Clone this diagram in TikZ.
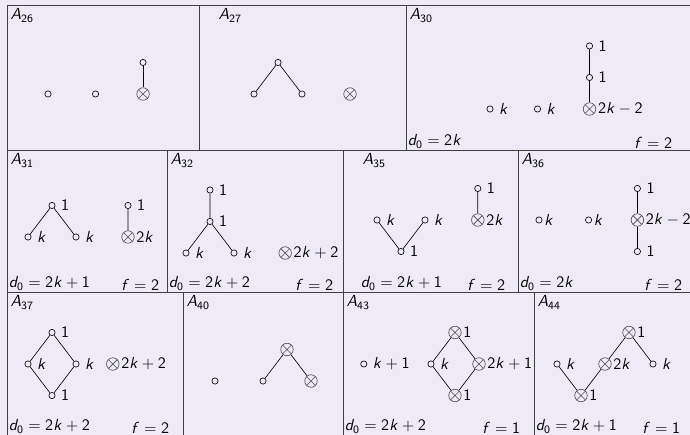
\documentclass[tikz,border=0pt]{standalone}
\usetikzlibrary{positioning}
\DeclareSymbolFont{operators}{OT1}{cmss}{m}{n}
\DeclareSymbolFont{letters}{OT1}{cmss}{m}{sl}
\definecolor{slidebg}{RGB}{239,235,246}
\tikzstyle{vtx}=[draw,circle,inner sep=0pt,minimum size=3.9pt]
\tikzstyle{otm}=[draw=black!70,circle,inner sep=0pt,minimum size=7.8pt,path picture={\draw[black!70] (path picture bounding box.north west) -- (path picture bounding box.south east) (path picture bounding box.north east) -- (path picture bounding box.south west);}]
\tikzstyle{tabline}=[draw=black!75,line width=0.6pt]
\tikzstyle{hd}=[anchor=north west,inner sep=2pt]
\tikzstyle{dz}=[anchor=south west,inner sep=1pt]
\tikzstyle{ff}=[anchor=south east,inner sep=1pt]
\tikzstyle{lo}=[inner sep=1pt]

\begin{document}
\begin{tikzpicture}[x=0.625pt,y=-0.625pt,node distance=19.7pt and 15pt,on grid]
            \fill[slidebg] (0,0) rectangle (690,435);
            \useasboundingbox (0,0) rectangle (690,435);
            \draw[tabline] (690,5) -- (7,5) -- (7,435);
            \draw[tabline] (7,150) -- (690,150) (7,292) -- (690,292);
            \draw[tabline] (199,5) -- (199,150) (406,5) -- (406,150);
            \draw[tabline] (167,150) -- (167,292) (343,150) -- (343,292) (518,150) -- (518,292);
            \draw[tabline] (183,292) -- (183,435) (343,292) -- (343,435) (534,292) -- (534,435);

            \node[hd] (h26) at (7,5) {$A_{26}$};
            \node[vtx] (p26a) at (48,94) {};
            \node[vtx,right=29.7pt of p26a] (p26b) {};
            \node[otm,right=29.7pt of p26b] (p26c) {};
            \node[vtx,above=of p26c] (p26d) {};
            \draw (p26d) -- (p26c);

            \node[hd] (h27) at (215,5) {$A_{27}$};
            \node[vtx] (p27a) at (254,94) {};
            \node[vtx,above right=of p27a] (p27b) {};
            \node[vtx,below right=of p27b] (p27c) {};
            \node[otm,right=30pt of p27c] (p27d) {};
            \draw (p27a) -- (p27b) -- (p27c);

            \node[hd] (h30) at (406,5) {$A_{30}$};
            \node[vtx,label=right:$k$] (p30a) at (490,109) {};
            \node[vtx,label=right:$k$,right=29.7pt of p30a] (p30b) {};
            \node[otm,label={[lo]right:$2k-2$},right=32.5pt of p30b] (p30c) {};
            \node[vtx,label=right:$1$,above=of p30c] (p30d) {};
            \node[vtx,label=right:$1$,above=of p30d] (p30e) {};
            \draw (p30c) -- (p30d) -- (p30e);
            \node[dz] (d30) at (406,150) {$d_0=2k$};
            \node[ff] (f30) at (674,150) {$f=2$};

            \node[hd] (h31) at (7,150) {$A_{31}$};
            \node[vtx,label=right:$k$] (p31a) at (28,237) {};
            \node[vtx,label=right:$1$,above right=of p31a] (p31b) {};
            \node[vtx,label=right:$k$,below right=of p31b] (p31c) {};
            \node[otm,label={[lo]right:$2k$},right=32.5pt of p31c] (p31d) {};
            \node[vtx,label=right:$1$,above=of p31d] (p31e) {};
            \draw (p31a) -- (p31b) -- (p31c) (p31d) -- (p31e);
            \node[dz] (d31) at (7,292) {$d_0=2k+1$};
            \node[ff] (f31) at (161,292) {$f=2$};

            \node[hd] (h32) at (167,150) {$A_{32}$};
            \node[vtx,label=right:$k$] (p32a) at (186,253) {};
            \node[vtx,label=right:$1$,above right=of p32a] (p32b) {};
            \node[vtx,label=right:$k$,below right=of p32b] (p32c) {};
            \node[vtx,label=right:$1$,above=of p32b] (p32d) {};
            \node[otm,label={[lo]right:$2k+2$},right=32pt of p32c] (p32e) {};
            \draw (p32a) -- (p32b) -- (p32c) (p32b) -- (p32d);
            \node[dz] (d32) at (167,292) {$d_0=2k+2$};
            \node[ff] (f32) at (335,292) {$f=2$};

            \node[hd] (h35) at (359,150) {$A_{35}$};
            \node[vtx,label=right:$k$] (p35a) at (377,220) {};
            \node[vtx,label=right:$1$,below right=of p35a] (p35b) {};
            \node[vtx,label=right:$k$,above right=of p35b] (p35c) {};
            \node[otm,label={[lo]right:$2k$},right=33pt of p35c] (p35d) {};
            \node[vtx,label=right:$1$,above=of p35d] (p35e) {};
            \draw (p35a) -- (p35b) -- (p35c) (p35d) -- (p35e);
            \node[dz] (d35) at (359,292) {$d_0=2k+1$};
            \node[ff] (f35) at (507,292) {$f=2$};

            \node[hd] (h36) at (518,150) {$A_{36}$};
            \node[vtx,label={[lo]right:$k$}] (p36a) at (539,220) {};
            \node[vtx,label={[lo]right:$k$},right=31pt of p36a] (p36b) {};
            \node[otm,label={[lo]right:$2k-2$},right=30.5pt of p36b] (p36c) {};
            \node[vtx,label=right:$1$,above=of p36c] (p36d) {};
            \node[vtx,label=right:$1$,below=of p36c] (p36e) {};
            \draw (p36d) -- (p36c) -- (p36e);
            \node[dz] (d36) at (518,292) {$d_0=2k$};
            \node[ff] (f36) at (684,292) {$f=2$};

            \node[hd] (h37) at (7,292) {$A_{37}$};
            \node[vtx,label=right:$k$] (p37a) at (28,364) {};
            \node[vtx,label=right:$1$,above right=of p37a] (p37b) {};
            \node[vtx,label=right:$k$,below right=of p37b] (p37c) {};
            \node[vtx,label=right:$1$,below right=of p37a] (p37d) {};
            \node[otm,label={[lo]right:$2k+2$},right=23pt of p37c] (p37e) {};
            \draw (p37a) -- (p37b) -- (p37c) -- (p37d) -- (p37a);
            \node[dz] (d37) at (7,435) {$d_0=2k+2$};
            \node[ff] (f37) at (171,435) {$f=2$};

            \node[hd] (h40) at (183,292) {$A_{40}$};
            \node[vtx] (p40b) at (263,381) {};
            \node[vtx,left=30pt of p40b] (p40a) {};
            \node[otm,above right=of p40b] (p40c) {};
            \node[otm,below right=of p40c] (p40d) {};
            \draw (p40b) -- (p40c) -- (p40d);

            \node[hd] (h43) at (343,292) {$A_{43}$};
            \node[vtx,label=right:$k$] (p43b) at (431,364) {};
            \node[vtx,label=right:$k+1$,left=42pt of p43b] (p43a) {};
            \node[otm,label={[lo]right:$1$},above right=of p43b] (p43c) {};
            \node[otm,label={[lo]right:$2k+1$},below right=of p43c] (p43d) {};
            \node[otm,label={[lo]right:$1$},below right=of p43b] (p43e) {};
            \draw (p43b) -- (p43c) -- (p43d) -- (p43e) -- (p43b);
            \node[dz] (d43) at (343,435) {$d_0=2k+2$};
            \node[ff] (f43) at (522,435) {$f=1$};

            \node[hd] (h44) at (534,292) {$A_{44}$};
            \node[vtx,label=right:$k$] (p44a) at (557,364) {};
            \node[otm,label={[lo]right:$1$},below right=of p44a] (p44b) {};
            \node[otm,label={[lo]right:$2k$},above right=of p44b] (p44c) {};
            \node[otm,label={[lo]right:$1$},above right=of p44c] (p44d) {};
            \node[vtx,label=right:$k$,below right=of p44d] (p44e) {};
            \draw (p44a) -- (p44b) -- (p44c) -- (p44d) -- (p44e);
            \node[dz] (d44) at (534,435) {$d_0=2k+1$};
            \node[ff] (f44) at (682,435) {$f=1$};
        \end{tikzpicture}
\end{document}
